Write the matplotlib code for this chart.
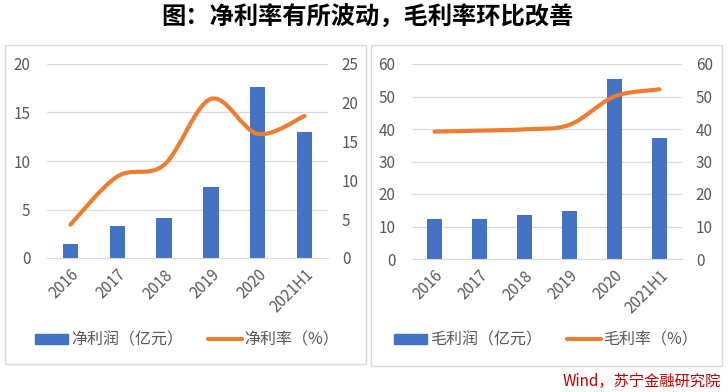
import matplotlib
matplotlib.use("Agg")
import matplotlib.pyplot as plt
from matplotlib.path import Path
from matplotlib.patches import PathPatch, Rectangle
from matplotlib.lines import Line2D
import numpy as np

plt.rcParams['font.family'] = ['Noto Sans CJK SC', 'DejaVu Sans']

categories = ["2016", "2017", "2018", "2019", "2020", "2021H1"]
net_profit = [1.4, 3.25, 4.15, 7.3, 17.6, 12.95]       # 净利润（亿元）
net_margin = [4.3, 10.5, 12.0, 20.5, 16.0, 18.3]       # 净利率（%）
gross_profit = [12.3, 12.3, 13.6, 14.8, 55.5, 37.3]    # 毛利润（亿元）
gross_margin = [39.2, 39.5, 39.9, 41.3, 50.0, 52.2]    # 毛利率（%）

W, H = 728, 392
fig = plt.figure(figsize=(W / 100, H / 100), dpi=100)

def fx(px):
    return px / W

def fy(py):
    return 1 - py / H

BLUE = "#4472C4"
ORANGE = "#ED7D31"
GRID = "#D9D9D9"
TXT = "#595959"

fig.text(fx(367), fy(18), "图：净利率有所波动，毛利率环比改善", ha="center", va="center",
         fontsize=17.5, fontweight="bold", color="#000000")

# panel borders
for (x0, y0, x1, y1) in [(5, 45, 366, 364), (371, 45, 722, 366)]:
    fig.patches.append(Rectangle((fx(x0), fy(y1)), fx(x1 - x0), (y1 - y0) / H,
                                 transform=fig.transFigure, fill=False,
                                 edgecolor=GRID, linewidth=1.0))


def smooth_path(xs, ys):
    pts = np.column_stack([xs, ys]).astype(float)
    n = len(pts)
    verts = [pts[0]]
    codes = [Path.MOVETO]
    for i in range(n - 1):
        p0 = pts[i - 1] if i > 0 else pts[i]
        p1 = pts[i]
        p2 = pts[i + 1]
        p3 = pts[i + 2] if i + 2 < n else pts[i + 1]
        c1 = p1 + (p2 - p0) / 6.0
        c2 = p2 - (p3 - p1) / 6.0
        verts += [c1, c2, p2]
        codes += [Path.CURVE4] * 3
    return Path(verts, codes)


def panel(rect_px, bars, line, ylim_l, ticks_l, ylim_r, ticks_r, bar_label, line_label, legend_x, barw):
    l, t, r, b = rect_px
    ax = fig.add_axes([fx(l), fy(b), fx(r - l), (b - t) / H])
    x = np.arange(len(categories))
    ax.bar(x, bars, width=barw, color=BLUE, zorder=2)
    ax.set_xlim(-0.5, len(categories) - 0.5)
    ax.set_ylim(*ylim_l)
    ax.set_yticks(ticks_l)
    ax.grid(axis="y", color=GRID, linewidth=0.9, zorder=0)
    ax.set_axisbelow(True)
    for s in ["top", "left", "right"]:
        ax.spines[s].set_visible(False)
    ax.spines["bottom"].set_color(GRID)
    ax.tick_params(length=0, colors=TXT, labelsize=11)
    ax.tick_params(axis="y", pad=12)
    ax.set_xticks(x)
    ax.set_xticklabels(categories, rotation=45, ha="right", rotation_mode="anchor")
    ax.tick_params(axis="x", pad=6)

    ax2 = ax.twinx()
    ax2.set_ylim(*ylim_r)
    ax2.set_yticks(ticks_r)
    for s in ["top", "left", "right", "bottom"]:
        ax2.spines[s].set_visible(False)
    ax2.tick_params(length=0, colors=TXT, labelsize=11, pad=10)
    p = smooth_path(x, line)
    ax2.add_patch(PathPatch(p, facecolor="none", edgecolor=ORANGE, linewidth=3.0,
                            capstyle="round", zorder=3))

    handles = [Rectangle((0, 0), 1, 1, color=BLUE),
               Line2D([0], [0], color=ORANGE, linewidth=3, solid_capstyle="round")]
    fig.legend(handles, [bar_label, line_label], loc="center",
               bbox_to_anchor=(fx(legend_x), fy(340)), ncol=2, frameon=False,
               fontsize=11.5, handlelength=2.1, handletextpad=0.15, columnspacing=1.6,
               labelcolor=TXT, handleheight=0.6)
    return ax, ax2


panel((47, 64, 328, 258), net_profit, net_margin, (0, 20), [0, 5, 10, 15, 20],
      (0, 25), [0, 5, 10, 15, 20, 25], "净利润（亿元）", "净利率（%）", 187, 0.33)
panel((412, 64, 682, 259), gross_profit, gross_margin, (0, 60), [0, 10, 20, 30, 40, 50, 60],
      (0, 60), [0, 10, 20, 30, 40, 50, 60], "毛利润（亿元）", "毛利率（%）", 546, 0.32)

fig.text(fx(721), fy(381), "Wind，苏宁金融研究院", ha="right", va="center",
         fontsize=11, color="#C00000", style="italic")

fig.savefig("out.png", dpi=100)
